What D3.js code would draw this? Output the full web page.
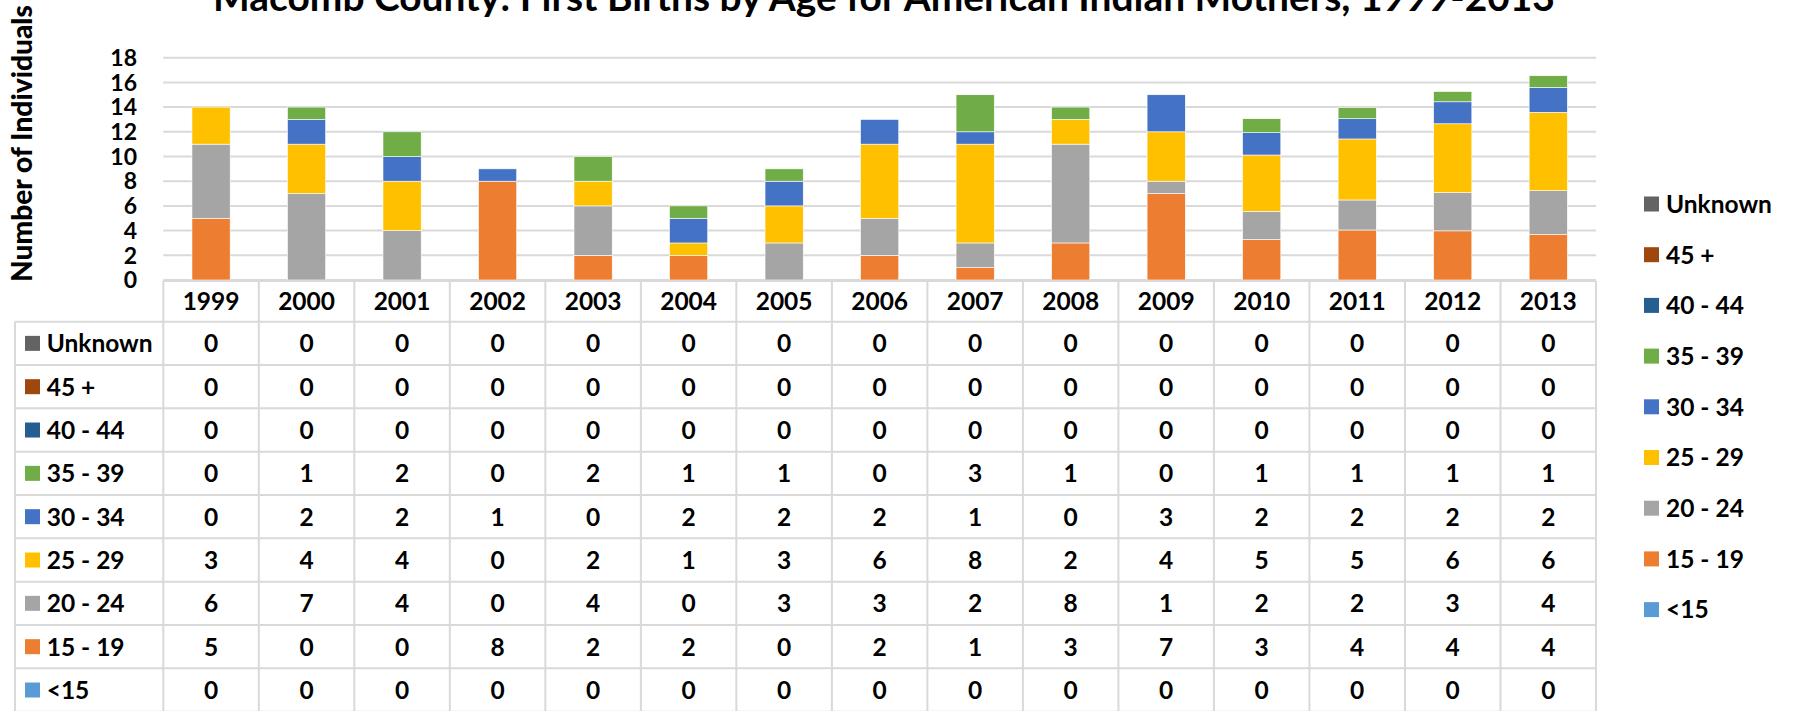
<!DOCTYPE html>
<html>
<head>
<meta charset="utf-8">
<script src="https://cdn.jsdelivr.net/npm/d3@7"></script>
<style>
  body { margin: 0; background: #fff; }
  svg text { font-family: Lato, "Open Sans", sans-serif; font-weight: bold; fill: #000; }
</style>
</head>
<body>
<div id="chart"></div>
<script>
/* Years along the x axis */
const years = ['1999', '2000', '2001', '2002', '2003', '2004', '2005', '2006',
  '2007', '2008', '2009', '2010', '2011', '2012', '2013'];

/* Age groups, stacking order bottom -> top */
const ageGroups = ['<15', '15 - 19', '20 - 24', '25 - 29', '30 - 34', '35 - 39', '40 - 44', '45 +', 'Unknown'];

/* Series values, one per year (later years are averages, table shows them rounded) */
const under15 = [0, 0, 0, 0, 0, 0, 0, 0, 0, 0, 0, 0, 0, 0, 0];
const age15to19 = [5, 0, 0, 8, 2, 2, 0, 2, 1, 3, 7, 3.29, 4.05, 3.98, 3.70];
const age20to24 = [6, 7, 4, 0, 4, 0, 3, 3, 2, 8, 1, 2.27, 2.43, 3.10, 3.53];
const age25to29 = [3, 4, 4, 0, 2, 1, 3, 6, 8, 2, 4, 4.56, 4.94, 5.57, 6.35];
const age30to34 = [0, 2, 2, 1, 0, 2, 2, 2, 1, 0, 3, 1.81, 1.64, 1.78, 2.02];
const age35to39 = [0, 1, 2, 0, 2, 1, 1, 0, 3, 1, 0, 1.13, 0.90, 0.83, 0.94];
const age40to44 = [0, 0, 0, 0, 0, 0, 0, 0, 0, 0, 0, 0, 0, 0, 0];
const age45plus = [0, 0, 0, 0, 0, 0, 0, 0, 0, 0, 0, 0, 0, 0, 0];
const unknownAge = [0, 0, 0, 0, 0, 0, 0, 0, 0, 0, 0, 0, 0, 0, 0];

const yTicks = [0, 2, 4, 6, 8, 10, 12, 14, 16, 18];

const title = 'Macomb County: First Births by Age for American Indian Mothers, 1999-2013';
const yLabel = 'Number of Individuals';

const series = [under15, age15to19, age20to24, age25to29, age30to34, age35to39, age40to44, age45plus, unknownAge];
const colors = ['#5B9BD5', '#ED7D31', '#A5A5A5', '#FFC000', '#4472C4', '#70AD47', '#255E91', '#9E480E', '#636363'];

/* build rows for d3.stack */
const rows = years.map((yr, i) => {
  const r = { year: yr };
  ageGroups.forEach((g, k) => { r[g] = series[k][i]; });
  return r;
});

const width = 1793;
const height = 711;
const plotLeft = 163.3;
const plotRight = 1596;
const gridColor = '#d9d9d9';
const fontSize = 24.5;

const svg = d3.select('#chart')
  .append('svg')
  .attr('width', width)
  .attr('height', height);

const x = d3.scaleBand()
  .domain(years)
  .range([plotLeft, plotRight])
  .paddingInner(0.6)
  .paddingOuter(0.3);

const cols = d3.scaleBand()
  .domain(years)
  .range([plotLeft, plotRight]);

const y = d3.scaleLinear()
  .domain([0, 18])
  .range([280, 57.7]);

const color = d3.scaleOrdinal().domain(ageGroups).range(colors);

function fitText(sel, target) {
  const node = sel.node();
  const size = parseFloat(sel.attr('font-size'));
  const len = node.getComputedTextLength();
  sel.attr('font-size', (size * target / len).toFixed(2));
}

/* title */
svg.append('text')
  .attr('x', 884)
  .attr('y', 11)
  .attr('text-anchor', 'middle')
  .attr('font-size', 36)
  .text(title)
  .call(fitText, 1342);

/* y axis label */
svg.append('text')
  .attr('transform', 'translate(32,143.5) rotate(-90)')
  .attr('text-anchor', 'middle')
  .attr('font-size', 24)
  .style('font-weight', 900)
  .text(yLabel)
  .call(fitText, 277);

/* gridlines */
svg.append('g')
  .selectAll('line')
  .data(yTicks)
  .enter()
  .append('line')
  .attr('x1', plotLeft)
  .attr('x2', plotRight)
  .attr('y1', d => y(d))
  .attr('y2', d => y(d))
  .attr('stroke', gridColor)
  .attr('stroke-width', 2);

/* tick labels */
svg.append('g')
  .selectAll('text')
  .data(yTicks)
  .enter()
  .append('text')
  .attr('x', 137)
  .attr('y', d => y(d))
  .attr('dy', '0.36em')
  .attr('text-anchor', 'end')
  .attr('font-size', 23)
  .text(d => d);

/* stacked bars */
const stacked = d3.stack().keys(ageGroups)(rows);

svg.append('g')
  .selectAll('g')
  .data(stacked)
  .enter()
  .append('g')
  .attr('fill', d => color(d.key))
  .selectAll('rect')
  .data(d => d.filter(s => s[1] - s[0] > 0))
  .enter()
  .append('rect')
  .attr('x', d => x(d.data.year))
  .attr('width', x.bandwidth())
  .attr('y', d => y(d[1]))
  .attr('height', d => y(d[0]) - y(d[1]))
  .attr('stroke', '#fff')
  .attr('stroke-width', 0.6);

/* data table */
const headerTop = 281;
const headerBottom = 321.7;
const rowH = 43.33;
const labelLeft = 15;
const tableRows = ageGroups.slice().reverse();
const tableBottom = headerBottom + rowH * tableRows.length;
const fmt = d3.format('.0f');

const table = svg.append('g');

// horizontal borders
table.append('line')
  .attr('x1', plotLeft).attr('x2', plotRight)
  .attr('y1', headerTop).attr('y2', headerTop);
table.selectAll('line.h')
  .data(d3.range(tableRows.length + 1))
  .enter()
  .append('line')
  .attr('class', 'h')
  .attr('x1', labelLeft).attr('x2', plotRight)
  .attr('y1', i => headerBottom + i * rowH)
  .attr('y2', i => headerBottom + i * rowH);

// vertical borders
table.selectAll('line.v')
  .data(years)
  .enter()
  .append('line')
  .attr('class', 'v')
  .attr('x1', d => cols(d)).attr('x2', d => cols(d))
  .attr('y1', headerTop).attr('y2', tableBottom);
table.append('line')
  .attr('x1', plotRight).attr('x2', plotRight)
  .attr('y1', headerTop).attr('y2', tableBottom);
table.append('line')
  .attr('x1', labelLeft).attr('x2', labelLeft)
  .attr('y1', headerBottom).attr('y2', tableBottom);

table.selectAll('line')
  .attr('stroke', gridColor)
  .attr('stroke-width', 2);

// header years
table.selectAll('text.yr')
  .data(years)
  .enter()
  .append('text')
  .attr('class', 'yr')
  .attr('x', d => cols(d) + cols.bandwidth() / 2)
  .attr('y', (headerTop + headerBottom) / 2)
  .attr('dy', '0.36em')
  .attr('text-anchor', 'middle')
  .attr('font-size', fontSize)
  .text(d => d);

// body rows
const bodyRow = table.selectAll('g.row')
  .data(tableRows)
  .enter()
  .append('g')
  .attr('class', 'row')
  .attr('transform', (d, i) => `translate(0,${headerBottom + i * rowH + rowH / 2})`);

bodyRow.append('rect')
  .attr('x', 25)
  .attr('y', -7.5)
  .attr('width', 15)
  .attr('height', 15)
  .attr('fill', d => color(d));

bodyRow.append('text')
  .attr('x', 46.7)
  .attr('dy', '0.36em')
  .attr('font-size', fontSize)
  .text(d => d);

bodyRow.selectAll('text.val')
  .data(g => years.map((yr, i) => ({ year: yr, value: series[ageGroups.indexOf(g)][i] })))
  .enter()
  .append('text')
  .attr('class', 'val')
  .attr('x', d => cols(d.year) + cols.bandwidth() / 2)
  .attr('dy', '0.36em')
  .attr('text-anchor', 'middle')
  .attr('font-size', fontSize)
  .text(d => fmt(d.value));

/* legend */
const legend = svg.append('g')
  .selectAll('g')
  .data(tableRows)
  .enter()
  .append('g')
  .attr('transform', (d, i) => `translate(1644,${204 + i * 50.7})`);

legend.append('rect')
  .attr('y', -7.5)
  .attr('width', 15)
  .attr('height', 15)
  .attr('fill', d => color(d));

legend.append('text')
  .attr('x', 22)
  .attr('dy', '0.36em')
  .attr('font-size', fontSize)
  .text(d => d);
</script>
</body>
</html>
